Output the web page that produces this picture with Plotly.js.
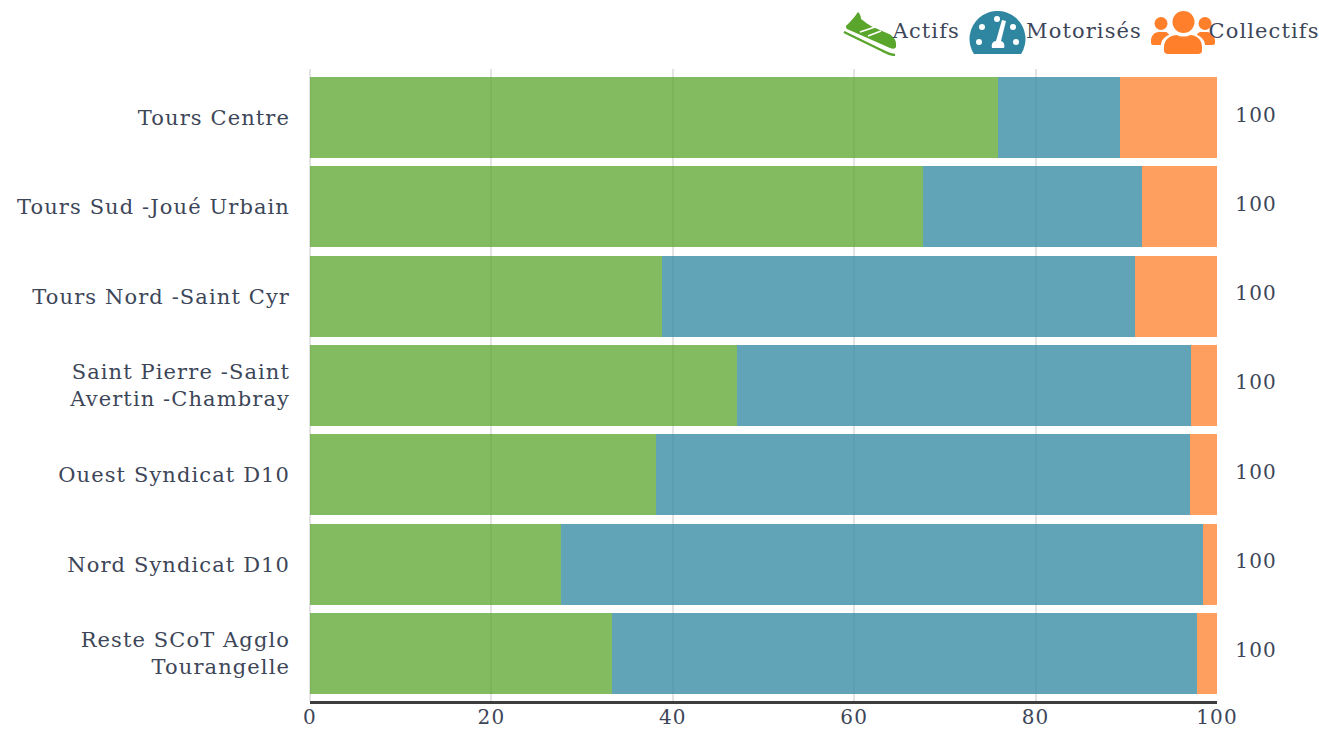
<!DOCTYPE html>
<html><head><meta charset="utf-8">
<script src="https://cdn.plot.ly/plotly-3.0.1.min.js"></script>
<style>html,body{margin:0;padding:0;background:#fff}
.main-svg text{letter-spacing:1.1px}</style></head>
<body><div id="chart" style="width:1319px;height:729px"></div>
<script>
const categories = ["Tours Centre","Tours Sud -Joué Urbain","Tours Nord -Saint Cyr","Saint Pierre -Saint<br>Avertin -Chambray","Ouest Syndicat D10","Nord Syndicat D10","Reste SCoT Agglo<br>Tourangelle"];
const actifs = [75.85,67.6,38.8,47.1,38.1,27.7,33.3];
const motorises = [13.45,24.1,52.2,50.0,58.9,70.8,64.5];
const collectifs = [10.7,8.3,9.0,2.9,3.0,1.5,2.2];
const totals = [100,100,100,100,100,100,100];
const xTicks = [0,20,40,60,80,100];

const FONT = '"DejaVu Serif", serif';
const TXT = '#3d4658';
const W = 1319, H = 729, L = 310, R = 1217, T = 69, B = 701;
const px = v => (v - L) / (R - L);
const py = v => (B - v) / (B - T);

const svg = s => 'data:image/svg+xml,' + encodeURIComponent(s);
const shoe = svg('<svg xmlns="http://www.w3.org/2000/svg" viewBox="0 0 54 45" width="54" height="45"><path fill="#5aa52b" d="M3 15C7 11 11 7 15 1C17 3 18 5 18 8C21 10 24 13 30 16L46 23C50 25 54 29 53 36C52 38 50 38 47 37L4 18C3 17 3 16 3 15Z"/><path stroke="#fff" stroke-width="1.8" fill="none" d="M17 21L32 16M25 25L38 20"/><path stroke="#5aa52b" stroke-width="2.4" fill="none" d="M1 21L38 39C42 41 47 44 52 44"/></svg>');
const gauge = svg('<svg xmlns="http://www.w3.org/2000/svg" viewBox="0 0 57 44" width="57" height="44"><path fill="#2e86a0" d="M4.900 43A28 28 0 1 1 52.100 43Z"/><g fill="#fff"><circle cx="10" cy="31" r="3"/><circle cx="13" cy="16" r="3"/><circle cx="28" cy="8" r="3"/><circle cx="44" cy="16" r="3"/><circle cx="47" cy="31" r="3"/><path d="M33 9L37 10L32 30C35 31 36 34 35 37L23 37C22 33 24 30 27 30Z"/></g></svg>');
const people = svg('<svg xmlns="http://www.w3.org/2000/svg" viewBox="0 0 64 44" width="64" height="44"><g fill="#ff7f2a"><circle cx="32.500" cy="11" r="11"/><path d="M13 36C13 28 20 24 26 24C29 26 36 26 39 24C45 24 51 28 51 36L51 40C51 42 49 43 47 43L17 43C15 43 13 42 13 40Z"/><circle cx="10" cy="12.500" r="6.500"/><circle cx="54" cy="12.500" r="6.500"/><path d="M0 30C0 25 3 21 8 21L15 21C17 22 18 23 18 24C13 26 10 30 10 34L2 34C1 34 0 33 0 32Z"/><path d="M64 30C64 25 61 21 56 21L49 21C47 22 46 23 46 24C51 26 54 30 54 34L62 34C63 34 64 33 64 32Z"/></g></svg>');

const bar = (name, values, color) => ({type:'bar', orientation:'h', name, x:values, y:categories, marker:{color, line:{width:0}}, opacity:0.75, hoverinfo:'x+name'});
const traces = [bar('Actifs',actifs,'#5aa52b'), bar('Motorisés',motorises,'#2e86a0'), bar('Collectifs',collectifs,'#ff7f2a')];

const annotations = categories.map((c,i)=>({xref:'x',yref:'y',x:100,y:c,text:String(totals[i]),showarrow:false,xanchor:'left',xshift:17.500,yshift:3,font:{family:FONT,size:20,color:TXT}}));
[['Actifs',893,0],['Motorisés',1027,2],['Collectifs',1209,3]].forEach(([t,x,s])=>annotations.push({xref:'paper',yref:'paper',x:px(x),y:py(31),text:t,showarrow:false,xanchor:'left',yanchor:'middle',xshift:s,font:{family:FONT,size:21,color:TXT}}));

const img = (source,x0,y0,w,h)=>({source,xref:'paper',yref:'paper',x:px(x0),y:py(y0),sizex:w/(R-L),sizey:h/(B-T),xanchor:'left',yanchor:'top',sizing:'stretch',layer:'above'});

Plotly.newPlot('chart',traces,{
  width:W,height:H,barmode:'stack',bargap:0.093,showlegend:false,
  paper_bgcolor:'#fff',plot_bgcolor:'#fff',
  margin:{l:L,r:W-R,t:T,b:H-B,pad:0},
  font:{family:FONT,color:TXT},
  xaxis:{range:[0,100],tickvals:xTicks,ticktext:xTicks.map(String),tickfont:{family:FONT,size:20,color:TXT},ticks:'',ticklabelstandoff:-4,showgrid:true,gridcolor:'#e4e4e4',gridwidth:2,zeroline:true,zerolinecolor:'#e4e4e4',zerolinewidth:2,showline:true,linecolor:'#3d3d3d',linewidth:3},
  yaxis:{type:'category',autorange:false,range:[6.532,-0.543],tickfont:{family:FONT,size:21,color:TXT},ticks:'',ticklabelstandoff:19,showgrid:false,zeroline:false,showline:false},
  annotations,
  images:[img(shoe,843,11,54,45),img(gauge,969,11,57,44),img(people,1151,11,64,44)]
},{displayModeBar:false,staticPlot:true});
</script></body></html>
